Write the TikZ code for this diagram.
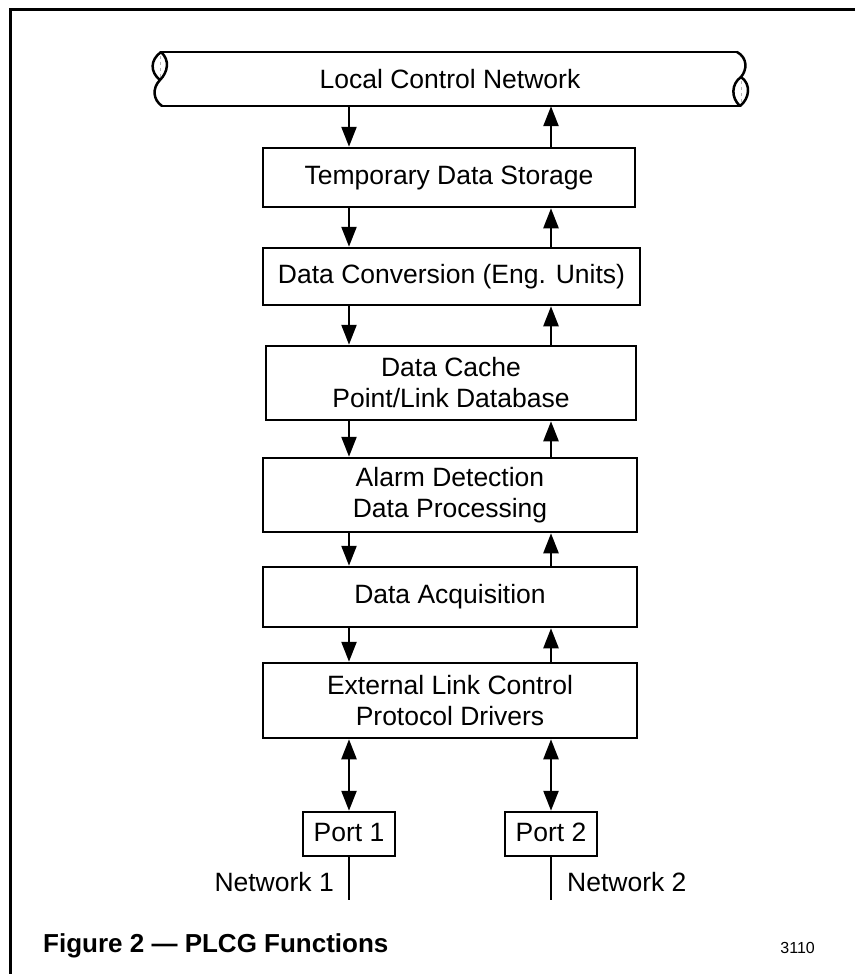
\documentclass[tikz,border=0pt]{standalone}
\usepackage{fontspec}
\setmainfont{Liberation Sans}
\usetikzlibrary{arrows.meta}
\begin{document}
\begin{tikzpicture}[x=1pt,y=-1pt,
  box/.style={draw, line width=2.5pt, rectangle, inner sep=0pt, align=center,
    font=\fontsize{26.5}{31}\selectfont},
  portbox/.style={box, minimum width=92pt, minimum height=44pt, text height=19pt, text depth=5pt},
  lbl/.style={inner sep=0pt, font=\fontsize{26.5}{31}\selectfont},
  arr/.style={line width=2.4pt, -{Triangle[length=20pt,width=15pt]}},
  darr/.style={line width=2.4pt, {Triangle[length=20pt,width=15pt]}-{Triangle[length=20pt,width=15pt]}},
  pipe/.style={line width=2.5pt, line join=round, line cap=round},
  frame/.style={line width=3pt}]
\useasboundingbox (0,0) rectangle (855,974);
% frame
\draw[frame] (855,10) -- (10,10) -- (10,974);
% column coordinates
\coordinate (xl) at (349,0);
\coordinate (xr) at (551,0);
% pipe (Local Control Network)
\node[lbl, minimum width=578pt, minimum height=54pt] (lcn) at (450,79) {Local Control Network};
\draw[pipe] (161,52) -- (737,52);
\draw[pipe] (162,106) -- (740,106);
\draw[pipe] (161,52) .. controls (150,60) and (150,72) .. (160,80);
\draw[pipe] (161,52) .. controls (170,60) and (168,72) .. (160,80);
\draw[pipe] (160,80) .. controls (152,88) and (153,100) .. (162,106);
\draw[pipe] (737,52) .. controls (748,58) and (747,70) .. (741,77);
\draw[pipe] (741,77) .. controls (731,84) and (731,98) .. (740,106);
\draw[pipe] (741,77) .. controls (751,84) and (750,98) .. (740,106);
\draw[gray!60, line width=0.6pt, dashed] (160,56) -- (160,77);
\draw[gray!60, line width=0.6pt, dashed] (741,81) -- (741,102);
% boxes
\node[box, minimum width=372pt, minimum height=59pt] (temp) at (449,177.5) {Temporary Data Storage};
\node[box, minimum width=377pt, minimum height=57pt] (conv) at (451.5,276.5) {Data Conversion (Eng. Units)};
\node[box, minimum width=370pt, minimum height=74pt] (cache) at (451,383) {Data Cache\\Point/Link Database};
\node[box, minimum width=374pt, minimum height=74pt] (alarm) at (450,495) {Alarm Detection\\Data Processing};
\node[box, minimum width=374pt, minimum height=60pt] (acq) at (450,597) {Data Acquisition};
\node[box, minimum width=374pt, minimum height=75pt] (ext) at (450,700.5) {External Link Control\\Protocol Drivers};
% ports
\node[portbox] (p1) at (349,834) {Port 1};
\node[portbox] (p2) at (551,834) {Port 2};
\coordinate (n1end) at (349,900);
\coordinate (n2end) at (551,900);
% arrows down (left) and up (right)
\draw[arr] (lcn.south -| xl) -- (temp.north -| xl);
\draw[arr] (temp.north -| xr) -- (lcn.south -| xr);
\draw[arr] (temp.south -| xl) -- (conv.north -| xl);
\draw[arr] (conv.north -| xr) -- (temp.south -| xr);
\draw[arr] (conv.south -| xl) -- (cache.north -| xl);
\draw[arr] (cache.north -| xr) -- (conv.south -| xr);
\draw[arr] (cache.south -| xl) -- (alarm.north -| xl);
\draw[arr] (alarm.north -| xr) -- (cache.south -| xr);
\draw[arr] (alarm.south -| xl) -- (acq.north -| xl);
\draw[arr] (acq.north -| xr) -- (alarm.south -| xr);
\draw[arr] (acq.south -| xl) -- (ext.north -| xl);
\draw[arr] (ext.north -| xr) -- (acq.south -| xr);
\draw[darr] (ext.south -| p1) -- (p1.north);
\draw[darr] (ext.south -| p2) -- (p2.north);
% network lines
\draw[line width=2.4pt] (p1.south) -- (n1end);
\draw[line width=2.4pt] (p2.south) -- (n2end);
\node[lbl, anchor=east] (net1) at (334,882) {Network 1};
\node[lbl, anchor=west] (net2) at (567,882) {Network 2};
% caption
\node[inner sep=0pt, anchor=west, font=\fontsize{26}{30}\bfseries\selectfont] (cap) at (43,946) {Figure 2 — PLCG Functions};
\node[inner sep=0pt, anchor=east, font=\fontsize{16}{18}\selectfont] (num) at (815,948) {3110};
\end{tikzpicture}
\end{document}
